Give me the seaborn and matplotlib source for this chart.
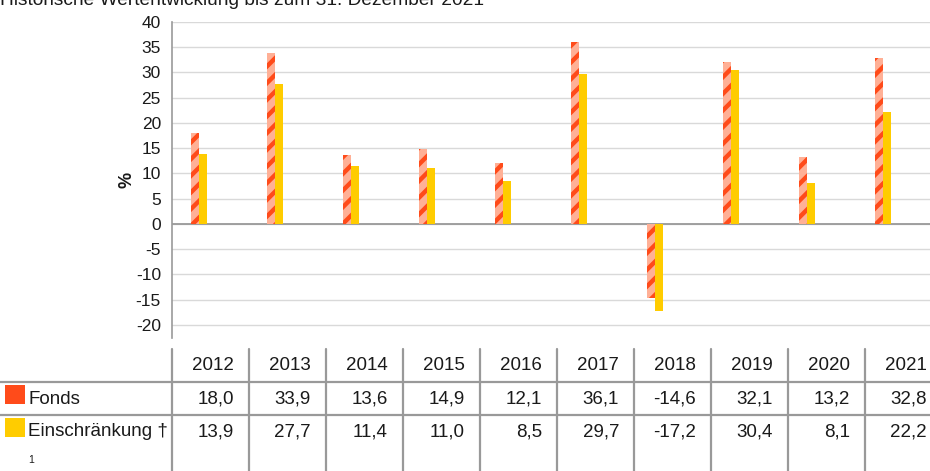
import matplotlib
matplotlib.use("Agg")
import matplotlib.pyplot as plt
from matplotlib.lines import Line2D
from matplotlib.patches import Rectangle
import seaborn as sns
import pandas as pd

years = ["2012", "2013", "2014", "2015", "2016", "2017", "2018", "2019", "2020", "2021"]
fonds = [18.0, 33.9, 13.6, 14.9, 12.1, 36.1, -14.6, 32.1, 13.2, 32.8]
einschraenkung = [13.9, 27.7, 11.4, 11.0, 8.5, 29.7, -17.2, 30.4, 8.1, 22.2]
series_names = ["Fonds", "Einschränkung †"]
yticks = [-20, -15, -10, -5, 0, 5, 10, 15, 20, 25, 30, 35, 40]
title = "Historische Wertentwicklung bis zum 31. Dezember 2021"

ORANGE = "#FF4B1A"
SALMON = "#FFB096"
YELLOW = "#FFCC00"
GRID = "#D9D9D9"
LINE = "#999999"
TXT = "#1a1a1a"

sns.set_style("white")
plt.rcParams["font.family"] = ["Liberation Sans", "DejaVu Sans"]
plt.rcParams["axes.unicode_minus"] = False
plt.rcParams["hatch.linewidth"] = 3.2

W, H = 930, 471
fig = plt.figure(figsize=(W / 100, H / 100), dpi=100)

def fx(px):
    return px / W

def fy(py):
    return 1 - py / H

ax_left, ax_right, ax_top, ax_bottom = 172, 930, 22, 338
ax = fig.add_axes([fx(ax_left), fy(ax_bottom), fx(ax_right - ax_left), fy(ax_top) - fy(ax_bottom)])

df = pd.DataFrame({
    "Jahr": years * 2,
    "Wert": fonds + einschraenkung,
    "Serie": [series_names[0]] * len(years) + [series_names[1]] * len(years),
})
sns.barplot(data=df, x="Jahr", y="Wert", hue="Serie", order=years, hue_order=series_names,
            palette=[ORANGE, YELLOW], width=0.21, ax=ax, legend=False, errorbar=None,
            saturation=1, linewidth=0, zorder=3)

for p in ax.containers[0]:
    p.set_facecolor(SALMON)
    p.set_edgecolor(ORANGE)
    p.set_hatch("//")
    p.set_linewidth(0)
for p in ax.containers[1]:
    p.set_linewidth(0)

# x range: first category centre at px 199, spacing 76 px
cat_w = 76.0
ax.set_xlim((ax_left - 199) / cat_w, (ax_right - 199) / cat_w)
ax.set_ylim(-22.6, 40)
ax.set_yticks(yticks)
ax.set_yticklabels([str(v) for v in yticks], fontsize=12.5, color=TXT)
ax.set_xticks([])
ax.set_xlabel("")
ax.set_ylabel("%", fontsize=13, fontweight="bold", color=TXT, labelpad=0)
ax.grid(axis="y", color=GRID, linewidth=1.0, zorder=0)
ax.set_axisbelow(True)
ax.axhline(0, color=LINE, linewidth=1.3, zorder=2)
ax.tick_params(axis="y", length=5, width=1, color=GRID, pad=3)
for s in ["top", "right", "bottom"]:
    ax.spines[s].set_visible(False)
ax.spines["left"].set_color(LINE)
ax.spines["left"].set_linewidth(1.2)

# Title (partially cut at the top, as in the reference)
fig.text(fx(0), fy(5), title, fontsize=13.8, color=TXT, ha="left", va="baseline")

# Table
col_edges = [172 + 77 * i for i in range(11)]
def hline(y):
    fig.add_artist(Line2D([fx(0), fx(W)], [fy(y), fy(y)], color=LINE, linewidth=1.6, transform=fig.transFigure))
def vline(x):
    fig.add_artist(Line2D([fx(x), fx(x)], [fy(349), fy(H)], color=LINE, linewidth=1.6, transform=fig.transFigure))

hline(382)
hline(415)
for x in col_edges:
    vline(x)

fs_table = 13.5
def fmt(v):
    return f"{v:.1f}".replace(".", ",")

for i, yr in enumerate(years):
    xr = col_edges[i + 1] - 15
    fig.text(fx(xr), fy(366), yr, fontsize=fs_table, color=TXT, ha="right", va="center")
    fig.text(fx(xr), fy(399), fmt(fonds[i]), fontsize=fs_table, color=TXT, ha="right", va="center")
    fig.text(fx(xr), fy(432), fmt(einschraenkung[i]), fontsize=fs_table, color=TXT, ha="right", va="center")

fig.add_artist(Rectangle((fx(5), fy(404)), fx(20), fy(385) - fy(404), facecolor=ORANGE, edgecolor="none", transform=fig.transFigure))
fig.add_artist(Rectangle((fx(5), fy(437)), fx(20), fy(418) - fy(437), facecolor=YELLOW, edgecolor="none", transform=fig.transFigure))
fig.text(fx(28), fy(399), series_names[0], fontsize=fs_table, color=TXT, ha="left", va="center")
fig.text(fx(28), fy(432), series_names[1], fontsize=fs_table, color=TXT, ha="left", va="center")
fig.text(fx(28), fy(460), "1", fontsize=7.5, color=TXT, ha="left", va="center")

fig.savefig("out.png", dpi=100)
